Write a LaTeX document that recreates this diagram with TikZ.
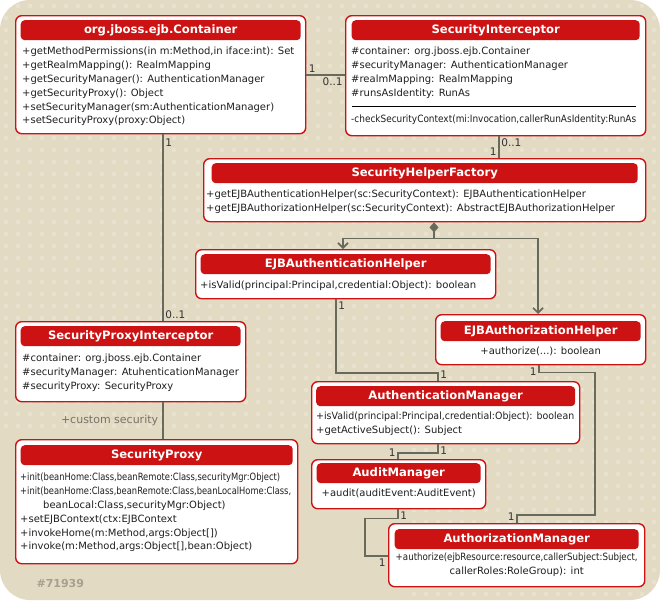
\documentclass[tikz,border=0pt]{standalone}
\usepackage{fontspec}
\setmainfont{DejaVu Sans}
\usepackage{graphicx}
\usepackage{tikz}
\usetikzlibrary{positioning,arrows.meta,calc}
\definecolor{bgbeige}{HTML}{E2DAC3}
\definecolor{bgdot}{HTML}{E8E2CF}
\definecolor{umlred}{HTML}{CC1212}
\definecolor{linegray}{HTML}{686A5C}
\definecolor{labelgray}{HTML}{77736A}
\definecolor{taggray}{HTML}{A8A08E}
\tikzset{
  classbox/.style={draw=umlred, line width=1.4pt, fill=white, rounded corners=6pt,
    anchor=north west, inner sep=0pt},
  classhead/.style={fill=umlred, text=white, rounded corners=4pt, anchor=north,
    inner sep=0pt, minimum height=20pt, font=\fontsize{11.6}{13}\selectfont\bfseries},
  members/.style={anchor=north west, inner sep=0pt, align=left, text=black!88,
    font=\fontsize{10}{13.8}\selectfont},
  cmembers/.style={members, anchor=north, align=center},
  conn/.style={draw=linegray, line width=1.7pt},
  mult/.style={inner sep=1.5pt, text=black!80, font=\fontsize{10.5}{11}\selectfont},
}

\begin{document}
\begin{tikzpicture}[x=1pt, y=-1pt,
  opentip/.style={-{Straight Barb[length=5pt,width=10pt]}},
  aggr/.style={{Diamond[length=10pt,width=9pt]}-}
]
\useasboundingbox (0,0) rectangle (660,600);
% background
\fill[bgbeige, rounded corners=30pt] (0,0) rectangle (660,600);
\begin{scope}
  \clip[rounded corners=30pt] (0,0) rectangle (660,600);
  \foreach \px in {6,18,...,654}
    \foreach \py in {6,18,...,426}
      \fill[bgdot] (\px,\py) circle (2.3pt);
  \foreach \px in {414,426,...,654}
    \foreach \py in {438,450,...,594}
      \fill[bgdot] (\px,\py) circle (2.3pt);
\end{scope}

% org.jboss.ejb.Container
\node[classbox, minimum width=290pt, minimum height=118pt] (container) at (15,15) {};
\node[classhead, minimum width=280pt] (containerH) at ([yshift=-5pt]container.north) {org.jboss.ejb.Container};
\node[members] (containerM) at ([xshift=7pt,yshift=-32pt]container.north west)
  {+getMethodPermissions(in m:Method,in iface:int): Set\\
   +getRealmMapping(): RealmMapping\\
   +getSecurityManager(): AuthenticationManager\\
   +getSecurityProxy(): Object\\
   +setSecurityManager(sm:AuthenticationManager)\\
   +setSecurityProxy(proxy:Object)};

% SecurityInterceptor
\node[classbox, minimum width=300pt, minimum height=120pt] (secint) at (345,15) {};
\node[classhead, minimum width=288pt] (secintH) at ([yshift=-5pt]secint.north) {SecurityInterceptor};
\node[members] (secintM) at ([xshift=6pt,yshift=-32pt]secint.north west)
  {\#container: org.jboss.ejb.Container\\
   \#securityManager: AuthenticationManager\\
   \#realmMapping: RealmMapping\\
   \#runsAsIdentity: RunAs};
\draw[black, line width=0.8pt] ([xshift=7pt,yshift=-91pt]secint.north west) -- ([xshift=-10pt,yshift=-91pt]secint.north east);
\node[members] (secintOp) at ([xshift=6pt,yshift=-100pt]secint.north west)
  {\resizebox{285pt}{\height}{-checkSecurityContext(mi:Invocation,callerRunAsIdentity:RunAs}};

% SecurityHelperFactory
\node[classbox, minimum width=442pt, minimum height=63pt] (factory) at (203,158) {};
\node[classhead, minimum width=426pt] (factoryH) at ([yshift=-5pt]factory.north) {SecurityHelperFactory};
\node[members] (factoryM) at ([xshift=3pt,yshift=-32pt]factory.north west)
  {+getEJBAuthenticationHelper(sc:SecurityContext): EJBAuthenticationHelper\\
   +getEJBAuthorizationHelper(sc:SecurityContext): AbstractEJBAuthorizationHelper};

% EJBAuthenticationHelper
\node[classbox, minimum width=300pt, minimum height=49pt] (authnH) at (195,249) {};
\node[classhead, minimum width=290pt] (authnHH) at ([yshift=-5pt]authnH.north) {EJBAuthenticationHelper};
\node[members] (authnHM) at ([xshift=5pt,yshift=-32pt]authnH.north west)
  {\resizebox{276pt}{\height}{+isValid(principal:Principal,credential:Object): boolean}};

% EJBAuthorizationHelper
\node[classbox, minimum width=210pt, minimum height=50pt] (authzH) at (435,314) {};
\node[classhead, minimum width=200pt] (authzHH) at ([yshift=-7pt]authzH.north) {EJBAuthorizationHelper};
\node[cmembers] (authzHM) at ([yshift=-33pt]authzH.north)
  {+authorize(...): boolean};

% SecurityProxyInterceptor
\node[classbox, minimum width=230pt, minimum height=80pt] (proxint) at (15,321) {};
\node[classhead, minimum width=220pt] (proxintH) at ([yshift=-5pt]proxint.north) {SecurityProxyInterceptor};
\node[members] (proxintM) at ([xshift=7pt,yshift=-33pt]proxint.north west)
  {\#container: org.jboss.ejb.Container\\
   \#securityManager: AtuhenticationManager\\
   \#securityProxy: SecurityProxy};

% SecurityProxy
\node[classbox, minimum width=282pt, minimum height=124pt] (proxy) at (15,439) {};
\node[classhead, minimum width=272pt] (proxyH) at ([yshift=-6pt]proxy.north) {SecurityProxy};
\node[members] (proxyM) at ([xshift=5pt,yshift=-34pt]proxy.north west)
  {\resizebox{260pt}{\height}{+init(beanHome:Class,beanRemote:Class,securityMgr:Object)}\\
   \resizebox{271pt}{\height}{+init(beanHome:Class,beanRemote:Class,beanLocalHome:Class,}\\
   \hspace*{23pt}beanLocal:Class,securityMgr:Object)\\
   +setEJBContext(ctx:EJBContext\\
   +invokeHome(m:Method,args:Object[])\\
   +invoke(m:Method,args:Object[],bean:Object)};

% AuthenticationManager
\node[classbox, minimum width=268pt, minimum height=62pt] (authnmgr) at (311,381) {};
\node[classhead, minimum width=259pt] (authnmgrH) at ([yshift=-5pt]authnmgr.north) {AuthenticationManager};
\node[members] (authnmgrM) at ([xshift=5pt,yshift=-31pt]authnmgr.north west)
  {\resizebox{258pt}{\height}{+isValid(principal:Principal,credential:Object): boolean}\\
   +getActiveSubject(): Subject};

% AuditManager
\node[classbox, minimum width=174pt, minimum height=49pt] (audit) at (311,459) {};
\node[classhead, minimum width=164pt] (auditH) at ([yshift=-4pt]audit.north) {AuditManager};
\node[cmembers] (auditM) at ([yshift=-30pt]audit.north)
  {+audit(auditEvent:AuditEvent)};

% AuthorizationManager
\node[classbox, minimum width=256pt, minimum height=63pt] (authzmgr) at (388,523) {};
\node[classhead, minimum width=244pt] (authzmgrH) at ([yshift=-6pt]authzmgr.north) {AuthorizationManager};
\node[cmembers] (authzmgrM) at ([yshift=-30pt]authzmgr.north)
  {\resizebox{242pt}{\height}{+authorize(ejbResource:resource,callerSubject:Subject,}\\
   callerRoles:RoleGroup): int};

% connectors
\draw[conn] ([yshift=-60pt]container.north east) node[mult, above right] {1}
  -- ([yshift=-60pt]secint.north west) node[mult, below left] {0..1};
\draw[conn] ([xshift=148pt]container.south west) node[mult, below right, yshift=-2pt] {1}
  -- ([xshift=148pt]proxint.north west) node[mult, above right] {0..1};
\draw[conn] ([xshift=154pt]secint.south west) node[mult, below right] {0..1}
  -- ([xshift=296pt]factory.north west) node[mult, above left] {1};
\coordinate (fork) at ([xshift=231pt,yshift=-16pt]factory.south west);
\draw[conn, aggr] (fork |- factory.south) -- (fork);
\draw[conn, opentip] (fork) -| ([xshift=148pt]authnH.north west);
\draw[conn, opentip] (fork) -| ([xshift=103pt]authzH.north west);
\draw[conn] ([xshift=141pt]authnH.south west) node[mult, below right] {1}
  |- ([xshift=127pt,yshift=8pt]authnmgr.north west)
  -- ([xshift=127pt]authnmgr.north west) node[mult, above right] {1};
\draw[conn] ([xshift=104pt]authzH.south west) node[mult, below left] {1}
  -- ++(0,7) -- ++(56,0) |- ([xshift=129pt,yshift=8pt]authzmgr.north west)
  -- ([xshift=129pt]authzmgr.north west) node[mult, above left] {1};
\draw[conn] ([xshift=127pt]authnmgr.south west) node[mult, below right] {1}
  |- ([xshift=87pt,yshift=6pt]audit.north west)
  -- ([xshift=87pt]audit.north west) node[mult, above left] {1};
\draw[conn] ([xshift=87pt]audit.south west) node[mult, below right] {1}
  -- ++(0,9) -| ([xshift=-23pt,yshift=-33pt]authzmgr.north west)
  -- ([yshift=-33pt]authzmgr.north west) node[mult, below left] {1};
\draw[conn] ([xshift=148pt]proxint.south west)
  -- node[left, inner sep=4pt, text=labelgray, font=\fontsize{11}{12}\selectfont] {+custom security}
  ([xshift=148pt]proxy.north west);

\node[anchor=west, text=taggray, font=\fontsize{11}{12}\selectfont\bfseries] (tag) at (33,583) {\#71939};
\end{tikzpicture}
\end{document}
